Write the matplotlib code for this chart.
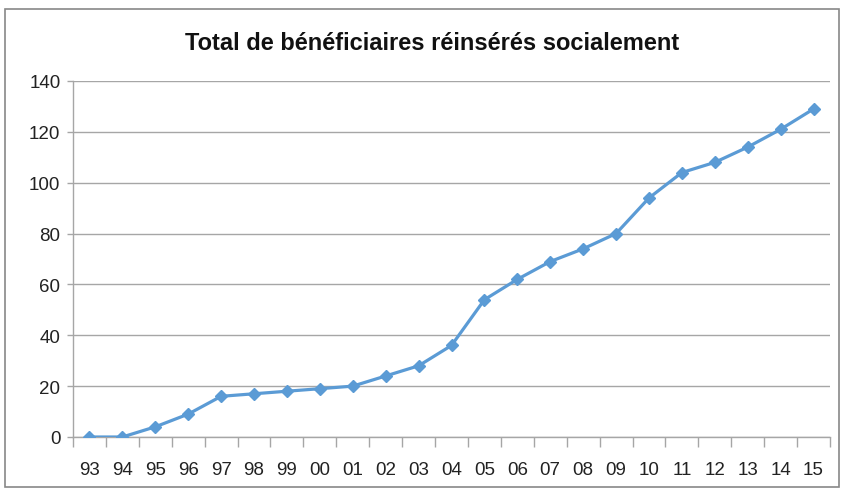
import matplotlib
matplotlib.use("Agg")
import matplotlib.pyplot as plt
from matplotlib.patches import Rectangle
import numpy as np

plt.rcParams['font.family'] = ['Liberation Sans', 'DejaVu Sans']

years = ['93', '94', '95', '96', '97', '98', '99', '00', '01', '02', '03', '04',
         '05', '06', '07', '08', '09', '10', '11', '12', '13', '14', '15']
beneficiaires = [0, 0, 4, 9, 16, 17, 18, 19, 20, 24, 28, 36,
                 54, 62, 69, 74, 80, 94, 104, 108, 114, 121, 129]

LINE_COLOR = '#5B9BD5'
GRID_COLOR = '#A6A6A6'

fig = plt.figure(figsize=(8.42, 4.89), dpi=100)
fig.patches.append(Rectangle((5 / 842, 0.002), 834 / 842, 1 - 10 / 489 - 0.002,
                             transform=fig.transFigure, fill=False,
                             edgecolor='#888888', linewidth=1.2))

ax = fig.add_axes([73 / 842, 51 / 489, 757 / 842, 356 / 489])
x = np.arange(len(years))
ax.plot(x, beneficiaires, color=LINE_COLOR, linewidth=2.3,
        marker='D', markersize=6.5, markerfacecolor=LINE_COLOR,
        markeredgecolor=LINE_COLOR, zorder=3)

ax.set_xlim(-0.5, len(years) - 0.5)
ax.set_ylim(0, 140)
ax.set_yticks(np.arange(0, 141, 20))
ax.set_xticks(x)
ax.set_xticklabels(years)
ax.set_xticks(np.arange(-0.5, len(years), 1), minor=True)
ax.tick_params(axis='x', which='major', length=0, pad=17, labelsize=13.5, colors='#222222')
ax.tick_params(axis='x', which='minor', length=7, width=1, color=GRID_COLOR)
ax.tick_params(axis='y', length=4, width=1, color=GRID_COLOR, pad=5,
               labelsize=13.5, labelcolor='#222222')

ax.grid(axis='y', color=GRID_COLOR, linewidth=1)
ax.set_axisbelow(True)
for side in ['top', 'right']:
    ax.spines[side].set_visible(False)
for side in ['left', 'bottom']:
    ax.spines[side].set_color(GRID_COLOR)
    ax.spines[side].set_linewidth(1)

fig.text(432 / 842, 1 - 43 / 489, 'Total de bénéficiaires réinsérés socialement',
         ha='center', va='center', fontsize=17, fontweight='bold', color='#111111')

fig.savefig('out.png', dpi=100)
